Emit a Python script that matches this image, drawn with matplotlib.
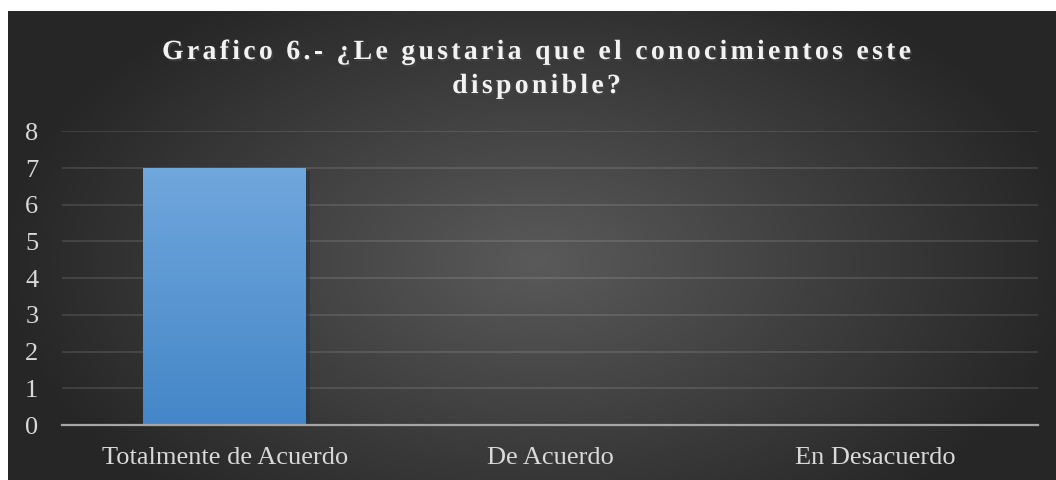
import numpy as np
import matplotlib
matplotlib.use("Agg")
import matplotlib.pyplot as plt
import matplotlib.patheffects as pe
from matplotlib import font_manager
from matplotlib.ft2font import FT2Font

categories = ["Totalmente de Acuerdo", "De Acuerdo", "En Desacuerdo"]
values = [7, 0, 0]
title_lines = ["Grafico 6.- ¿Le gustaria que el conocimientos este", "disponible?"]

W, H, DPI = 1056, 480, 100
fig = plt.figure(figsize=(W / DPI, H / DPI), dpi=DPI, facecolor="white")

# ---- dark panel with radial gradient ----
bg = fig.add_axes([8 / W, 0, 1 - 8 / W, 1 - 11 / H])
bg.set_axis_off()
yy, xx = np.mgrid[0:469, 0:1048]
r = np.sqrt(((xx - 530) / 540.0) ** 2 + ((yy - 250) / 320.0) ** 2)
r = np.clip(r, 0, 1)
lev = (0x5a - (0x5a - 0x26) * r) / 255.0
bg.imshow(np.dstack([lev, lev, lev]), aspect="auto", extent=[0, 1, 0, 1], origin="upper")
bg.set_xlim(0, 1)
bg.set_ylim(0, 1)

# ---- bar axes ----
ax = fig.add_axes([62 / W, 1 - 425 / H, (1038 - 62) / W, (425 - 131.3) / H])
ax.patch.set_alpha(0)
x = np.arange(len(categories))
bars = ax.bar(x, values, width=0.5, color="#5b9bd5", zorder=3,
              path_effects=[pe.SimplePatchShadow(offset=(3, -2), alpha=0.45, rho=0.3), pe.Normal()])

# vertical gradient fill on each bar
grad = np.linspace(0, 1, 256).reshape(-1, 1)
top_c = np.array([0x70, 0xa7, 0xdc]) / 255.0
bot_c = np.array([0x44, 0x86, 0xc8]) / 255.0
for b in bars:
    if b.get_height() <= 0:
        continue
    img = top_c + (bot_c - top_c) * grad[:, :, None]
    im = ax.imshow(img, aspect="auto", zorder=4, origin="upper",
                   extent=[b.get_x(), b.get_x() + b.get_width(), 0, b.get_height()])
    im.set_clip_path(b)

ax.set_xlim(-0.5, len(categories) - 0.5)
ax.set_ylim(0, 8)
ax.set_yticks(range(0, 9))
ax.set_xticks(x)
ax.set_xticklabels(categories)
for s in ["top", "right", "left"]:
    ax.spines[s].set_visible(False)
ax.spines["bottom"].set_color("#a6a6a6")
ax.spines["bottom"].set_linewidth(1.6)
ax.spines["bottom"].set_zorder(5)
ax.grid(axis="y", color="white", alpha=0.12, linewidth=1.3, zorder=1)
ax.tick_params(length=0, colors="#d9d9d9", labelsize=19)
ax.tick_params(axis="y", pad=17)
ax.tick_params(axis="x", pad=16)
for lab in ax.get_xticklabels() + ax.get_yticklabels():
    lab.set_fontfamily("Liberation Serif")

# ---- title with letter spacing ----
tsize = 20
fp = font_manager.FontProperties(family="Liberation Serif", weight="bold", size=tsize)
ft = FT2Font(font_manager.findfont(fp))
ft.set_size(tsize, DPI)
tracking = 3.3
center_x = 536.5
baselines = [59, 93]
for line, base in zip(title_lines, baselines):
    adv = [ft.load_char(ord(c)).linearHoriAdvance / 65536.0 for c in line]
    total = sum(adv) + tracking * (len(line) - 1)
    px = center_x - total / 2
    for c, a in zip(line, adv):
        if c != " ":
            fig.text(px / W, 1 - base / H, c, fontproperties=fp, color="#f2f2f2",
                     ha="left", va="baseline",
                     path_effects=[pe.withSimplePatchShadow(offset=(1.2, -1.5), alpha=0.6)])
        px += a + tracking

fig.savefig("out.png", dpi=DPI, facecolor="white")
